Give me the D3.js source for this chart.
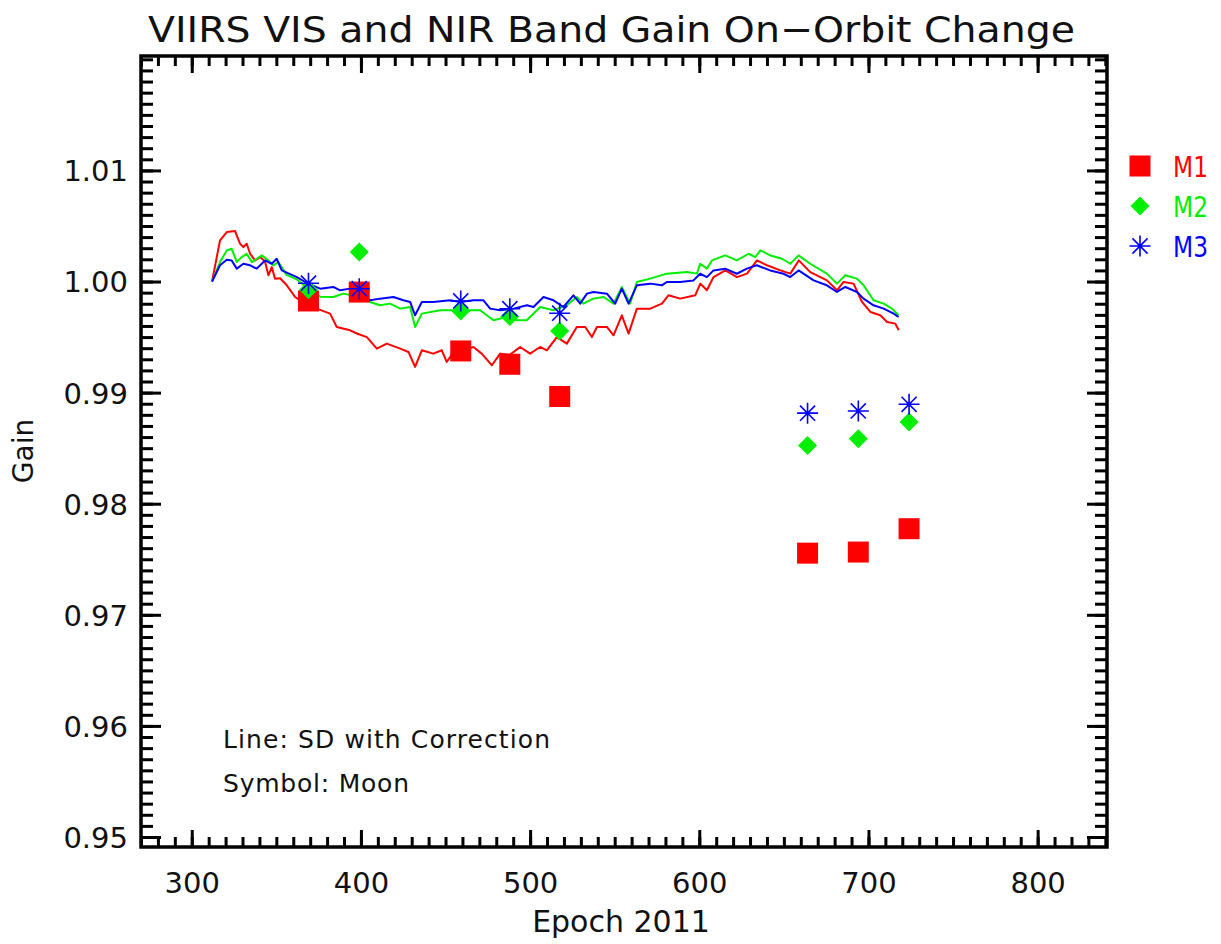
<!DOCTYPE html>
<html><head><meta charset="utf-8">
<script src="https://cdn.jsdelivr.net/npm/d3@7"></script>
<style>body{margin:0;background:#fff;} text{font-family:"DejaVu Sans",sans-serif;}</style>
</head><body>
<svg id="chart" width="1221" height="944"></svg>
<script>
// ---- data ----
const seriesNames = ["M1", "M2", "M3"];
const seriesColors = ["#ff0000", "#00ee00", "#0000ff"];
const xTickValues = [300, 400, 500, 600, 700, 800];
const yTickValues = [0.95, 0.96, 0.97, 0.98, 0.99, 1.00, 1.01];
const yTickLabels = ["0.95", "0.96", "0.97", "0.98", "0.99", "1.00", "1.01"];

// SD with correction (lines)
const lineM1 = [[312,1.0000],[316.7,1.0037],[320.7,1.00445],[325.6,1.00454],[328.5,1.00341],[330.5,1.0031],[332.5,1.0034],[334.5,1.0025],[337.4,1.0019],[340.4,1.0022],[343.3,1.0018],[345.3,1.00056],[347.3,1.0013],[349.2,1.00026],[352.2,1.0003],[356.2,0.99966],[361.1,0.99861],[366,0.9981],[373.9,0.99756],[381.8,0.99711],[385.7,0.99591],[393.6,0.99561],[398,0.9953],[403.5,0.9950],[409.4,0.99396],[415.3,0.99441],[423.2,0.99396],[428.1,0.99366],[432.0,0.99231],[436.0,0.99381],[442.8,0.99351],[447.8,0.99381],[450.7,0.99276],[455,0.9937],[460,0.9938],[466.5,0.99411],[471.4,0.99351],[477.4,0.99246],[482.3,0.99351],[488,0.9934],[494.1,0.99411],[500.0,0.99351],[505.9,0.99411],[509.9,0.99381],[515.8,0.9950],[521.7,0.99441],[527.6,0.99591],[532.6,0.99591],[536.5,0.9950],[539.5,0.99591],[545.4,0.99591],[549.3,0.99516],[554.2,0.99696],[558.2,0.99531],[563.1,0.99756],[571.0,0.99756],[577.9,0.99801],[581.8,0.99876],[588.7,0.99846],[597.6,0.99876],[600.6,0.99981],[604.5,0.99921],[608.4,1.0004],[615.4,1.0010],[622.3,1.0004],[628.2,1.00071],[634.1,1.0019],[640.0,1.00146],[647.9,1.0010],[653.8,1.00071],[658.8,1.0019],[665.6,1.00085],[675.5,1.0001],[681.4,0.99921],[685.3,0.99996],[691.2,0.99981],[696.2,0.99816],[701.1,0.99726],[707.0,0.99696],[711.0,0.99636],[715.9,0.99621],[717.9,0.99561]];
const lineM2 = [[312,1.0000],[316.7,1.00175],[320.7,1.0028],[323.6,1.00295],[326.6,1.00175],[329.5,1.0022],[332.5,1.0025],[335.5,1.00175],[341.4,1.00235],[345.3,1.0019],[348.2,1.00146],[351.2,1.00175],[356,1.0006],[362,1.0002],[368.9,0.99935],[375.9,0.99864],[383.7,0.99861],[389.6,0.99891],[399.5,0.99861],[405.4,0.99816],[411.3,0.99786],[417.2,0.99801],[423.2,0.99756],[429.1,0.99771],[432.0,0.99591],[436.0,0.99711],[446.9,0.99741],[458.6,0.99741],[470.5,0.99741],[478.3,0.99651],[486.2,0.99681],[492.2,0.99651],[498.0,0.99651],[506.0,0.99771],[513.8,0.99741],[521.7,0.99786],[527.6,0.99861],[531.5,0.99801],[537.4,0.99846],[543.4,0.99861],[549.3,0.99801],[554.2,0.9995],[559.1,0.99801],[563.1,0.99996],[571.0,1.00026],[580.8,1.00071],[592.7,1.00085],[598.6,1.00071],[600.5,1.0016],[604.5,1.00116],[607.5,1.0019],[615.3,1.00235],[622.2,1.0019],[629.2,1.0025],[633.1,1.0022],[636.1,1.0028],[642.0,1.00235],[648.9,1.00205],[653.8,1.0016],[658.7,1.00235],[665.6,1.0016],[675.4,1.00071],[681.4,0.99981],[686.3,1.00056],[693.2,1.00026],[697.1,0.99966],[703.0,0.99831],[709.0,0.99801],[713.9,0.99756],[717.8,0.99696]];
const lineM3 = [[312,1.0000],[316.7,1.00146],[320.7,1.00196],[323.6,1.0019],[326.6,1.00116],[330.5,1.0016],[334.5,1.00146],[338.4,1.00116],[343.3,1.0019],[347.3,1.0016],[350.2,1.00205],[353.2,1.0010],[362.1,1.0004],[368.9,0.9998],[375.9,0.99936],[383.7,0.99951],[387.7,0.99921],[393.6,0.99936],[399.5,0.99921],[405.4,0.99831],[411.3,0.99846],[419.2,0.99861],[425.1,0.99831],[429.1,0.99816],[432.0,0.99696],[436.0,0.99816],[442.8,0.99816],[452.7,0.99831],[458.6,0.99816],[466.5,0.99831],[472.4,0.99831],[476.4,0.99756],[482.3,0.99741],[490.2,0.99756],[498.1,0.99786],[502.0,0.99771],[507.9,0.99861],[513.8,0.99831],[519.7,0.99771],[525.6,0.99876],[529.6,0.99801],[533.6,0.99891],[537.5,0.99906],[545.4,0.99891],[550.3,0.99801],[554.2,0.99936],[558.2,0.99801],[563.1,0.99966],[571.0,0.99981],[577.9,0.99966],[580.8,0.99996],[588.7,0.99996],[596.6,1.0001],[600.5,1.0007],[604.5,1.0004],[608.4,1.001],[615.3,1.00116],[622.2,1.0007],[628.1,1.00116],[634.0,1.00146],[641.9,1.0010],[649.8,1.0007],[653.8,1.0004],[658.7,1.0010],[667.6,1.0001],[675.4,0.99966],[681.4,0.99906],[686.3,0.99951],[693.2,0.99906],[697.1,0.99846],[703.0,0.99786],[709.0,0.99756],[714.9,0.99711],[717.8,0.99681]];

// Moon (symbols)
const moonEpochs = [369, 399, 459, 488, 517.5, 664, 694, 724];
const moonM1 = [0.99825, 0.99905, 0.99375, 0.99255, 0.98965, 0.97555, 0.97565, 0.97775];
const moonM2 = [0.99925, 1.00265, 0.99735, 0.99685, 0.99555, 0.98525, 0.98585, 0.98735];
const moonM3 = [0.99985, 0.99935, 0.99825, 0.99755, 0.99715, 0.98815, 0.98835, 0.98895];

// ---- layout ----
const svg = d3.select("#chart");
const L = 141, R = 1107, T = 56, B = 847;
const x = d3.scaleLinear().domain([270, 841]).range([L, R]);
const y = d3.scaleLinear().domain([0.9491, 1.0203]).range([B, T]);

const ink = "#000";
function styleAxis(g, width) {
  g.select(".domain").remove();
  g.selectAll(".tick line").attr("stroke", ink).attr("stroke-width", width);
}
const xMinor = d3.range(270, 842, 10);
const yMinor = d3.range(0, 72).map(i => +(0.949 + i * 0.001).toFixed(3)).filter(v => v >= 0.9491 && v <= 1.0203);

// bottom
svg.append("g").attr("transform", `translate(0,${B})`)
  .call(d3.axisBottom(x).tickValues(xMinor).tickSize(-10).tickFormat(""))
  .call(g => styleAxis(g, 3));
const bx = svg.append("g").attr("transform", `translate(0,${B})`)
  .call(d3.axisBottom(x).tickValues(xTickValues).tickSize(-17).tickPadding(0).tickFormat(d3.format("d")))
  .call(g => styleAxis(g, 3));
bx.selectAll("text").attr("y", 46).attr("dy", null).attr("font-size", 29).attr("fill", "#111")
  .attr("font-family", "DejaVu Sans");
// top
svg.append("g").attr("transform", `translate(0,${T})`)
  .call(d3.axisTop(x).tickValues(xMinor).tickSize(-10).tickFormat(""))
  .call(g => styleAxis(g, 3));
svg.append("g").attr("transform", `translate(0,${T})`)
  .call(d3.axisTop(x).tickValues(xTickValues).tickSize(-17).tickFormat(""))
  .call(g => styleAxis(g, 3));
// left
svg.append("g").attr("transform", `translate(${L},0)`)
  .call(d3.axisLeft(y).tickValues(yMinor).tickSize(-12).tickFormat(""))
  .call(g => styleAxis(g, 3));
const ly = svg.append("g").attr("transform", `translate(${L},0)`)
  .call(d3.axisLeft(y).tickValues(yTickValues).tickSize(-20).tickPadding(0).tickFormat((d, i) => yTickLabels[i]))
  .call(g => styleAxis(g, 3));
ly.selectAll("text").attr("x", -13).attr("dy", "0.36em").attr("font-size", 29).attr("fill", "#111")
  .attr("font-family", "DejaVu Sans");
// right
svg.append("g").attr("transform", `translate(${R},0)`)
  .call(d3.axisRight(y).tickValues(yMinor).tickSize(-12).tickFormat(""))
  .call(g => styleAxis(g, 3));
svg.append("g").attr("transform", `translate(${R},0)`)
  .call(d3.axisRight(y).tickValues(yTickValues).tickSize(-20).tickFormat(""))
  .call(g => styleAxis(g, 3));

// frame
svg.append("rect").attr("x", L).attr("y", T).attr("width", R - L).attr("height", B - T)
  .attr("fill", "none").attr("stroke", ink).attr("stroke-width", 3.5);

// lines
const lineGen = d3.line().x(d => x(d[0])).y(d => y(d[1]));
[lineM1, lineM2, lineM3].forEach((data, i) => {
  svg.append("path").datum(data).attr("d", lineGen)
    .attr("fill", "none").attr("stroke", seriesColors[i]).attr("stroke-width", 2)
    .attr("stroke-linejoin", "round");
});

// symbol drawers
function drawSquare(g, cx, cy, c) {
  g.append("rect").attr("x", cx - 10.5).attr("y", cy - 10.5).attr("width", 21).attr("height", 21).attr("fill", c);
}
function drawDiamond(g, cx, cy, c) {
  g.append("path").attr("d", `M${cx},${cy - 9.5}L${cx + 9.5},${cy}L${cx},${cy + 9.5}L${cx - 9.5},${cy}Z`).attr("fill", c);
}
function drawStar(g, cx, cy, c) {
  const r = 10.5, d = r * 0.72;
  const p = `M${cx},${cy - r}L${cx},${cy + r}M${cx - r},${cy}L${cx + r},${cy}M${cx - d},${cy - d}L${cx + d},${cy + d}M${cx - d},${cy + d}L${cx + d},${cy - d}`;
  g.append("path").attr("d", p).attr("stroke", c).attr("stroke-width", 1.6).attr("fill", "none");
}
const drawers = [drawSquare, drawDiamond, drawStar];
const pts = svg.append("g");
[moonM1, moonM2, moonM3].forEach((vals, i) => {
  vals.forEach((v, j) => drawers[i](pts, x(moonEpochs[j]), y(v), seriesColors[i]));
});

// legend
const legY = [166, 206, 246];
seriesNames.forEach((n, i) => {
  drawers[i](svg, 1140, legY[i], seriesColors[i]);
  svg.append("text").attr("x", 1173).attr("y", legY[i] + 10.5).attr("font-size", 28)
    .attr("fill", seriesColors[i]).attr("textLength", 35).attr("lengthAdjust", "spacingAndGlyphs").text(n);
});

// title and axis titles
svg.append("text").attr("x", 148).attr("y", 42).attr("font-size", 36).attr("fill", "#111")
  .attr("textLength", 927).attr("lengthAdjust", "spacingAndGlyphs")
  .text("VIIRS VIS and NIR Band Gain On\u2212Orbit Change");
svg.append("text").attr("x", 621).attr("y", 932).attr("text-anchor", "middle").attr("font-size", 30)
  .attr("fill", "#111").text("Epoch 2011");
svg.append("text").attr("transform", "translate(33,451) rotate(-90)").attr("text-anchor", "middle")
  .attr("font-size", 28).attr("fill", "#111").text("Gain");

// annotation
svg.append("text").attr("x", 223).attr("y", 748).attr("font-size", 25).attr("fill", "#111")
  .attr("textLength", 327).attr("lengthAdjust", "spacing").text("Line: SD with Correction");
svg.append("text").attr("x", 223).attr("y", 792).attr("font-size", 25).attr("fill", "#111")
  .attr("textLength", 186).attr("lengthAdjust", "spacing").text("Symbol: Moon");
</script>
</body></html>
